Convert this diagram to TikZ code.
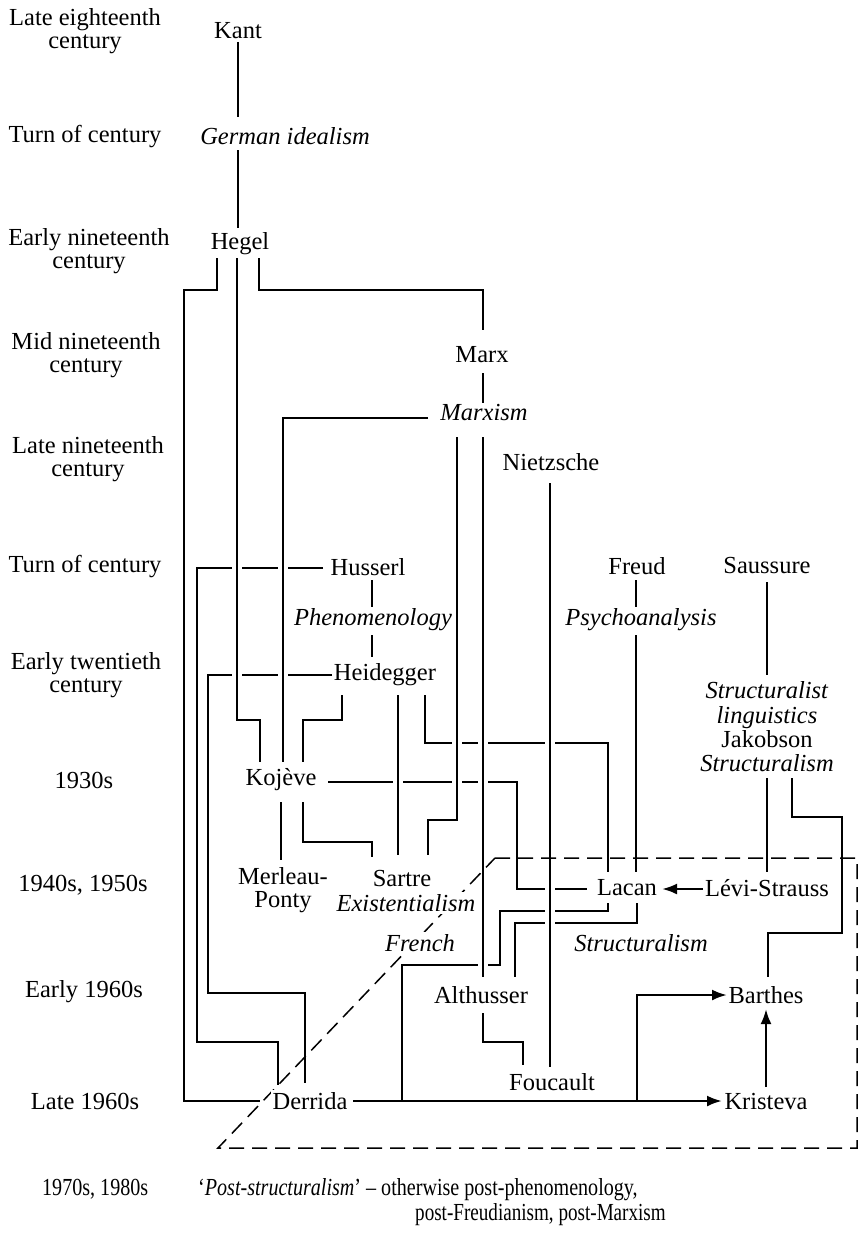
\documentclass[tikz,border=0pt]{standalone}
\usepackage{fontspec}
\setmainfont{Liberation Serif}
\usepackage{graphicx}
\usetikzlibrary{calc,arrows.meta}
\pgfdeclarelayer{bgl}
\pgfdeclarelayer{dashl}
\pgfdeclarelayer{fgl}
\pgfsetlayers{bgl,main,dashl,fgl}
\begin{document}
\begin{tikzpicture}[x=1pt,y=-1pt,
  every node/.style={font=\fontsize{24.5}{22.5}\selectfont, inner sep=0pt},
  lbl/.style={align=center},
  it/.style={font=\fontsize{24.5}{22.5}\selectfont\itshape},
  wf/.style={fill=white, inner sep=2pt},
  ln/.style={line width=2.5pt},
  br/.style={line width=2.5pt, preaction={draw=white, line width=10pt}},
  arr/.style={line width=2.5pt, -{Latex[length=15pt,width=11pt]}},
  dsh/.style={line width=1.5pt, dash pattern=on 15pt off 8pt}
]
\begin{pgfonlayer}{bgl}
\fill[white] (0,0) rectangle (863,1255);
\end{pgfonlayer}
\useasboundingbox (0,0) rectangle (863,1255);

\begin{pgfonlayer}{fgl}
% time column
\node[lbl] (t1) at (85,31) {Late eighteenth\\century};
\node[lbl] (t2) at (85,137) {Turn of century};
\node[lbl] (t3) at (89,251) {Early nineteenth\\century};
\node[lbl] (t4) at (86,355) {Mid nineteenth\\century};
\node[lbl] (t5) at (88,459) {Late nineteenth\\century};
\node[lbl] (t6) at (85,567) {Turn of century};
\node[lbl] (t7) at (86,675) {Early twentieth\\century};
\node[lbl] (t8) at (84,780) {1930s};
\node[lbl] (t9) at (83,885) {1940s, 1950s};
\node[lbl] (t10) at (84,992) {Early 1960s};
\node[lbl] (t11) at (85,1101) {Late 1960s};
\node[anchor=base west] (t12) at (42,1195) {\scalebox{0.82}[1]{1970s, 1980s}};
% thinkers and movements
\node (Kant) at (238,31) {Kant};
\node[it] (GI) at (285,136) {German idealism};
\node (Hegel) at (240,244) {Hegel};
\node (Marx) at (482,355) {Marx};
\node[it] (Marxism) at (484,413) {Marxism};
\node (Nietzsche) at (551,462) {Nietzsche};
\node (Husserl) at (368,567) {Husserl};
\node[it] (Phen) at (373,620) {Phenomenology};
\node (Heidegger) at (385,675) {Heidegger};
\node (Freud) at (637,566) {Freud};
\node[it] (Psycho) at (641,620) {Psychoanalysis};
\node (Saussure) at (767,566) {Saussure};
\node[align=center, font=\fontsize{24.5}{24.3}\selectfont] (SL) at (767,727)
  {\textit{Structuralist}\\\textit{linguistics}\\Jakobson\\\textit{Structuralism}};
\node (Kojeve) at (281,780) {Kojève};
\node[align=center] (MP) at (283,890) {Merleau-\\Ponty};
\node (Sartre) at (402,878) {Sartre};
\node[it, wf] (Exist) at (406,903) {Existentialism};
\node[it, wf] (French) at (420,943) {French};
\node (Lacan) at (627,888) {Lacan};
\node (LS) at (767,888) {Lévi-Strauss};
\node[it] (FStr) at (641,943) {Structuralism};
\node (Althusser) at (481,995) {Althusser};
\node (Barthes) at (766,995) {Barthes};
\node (Foucault) at (552,1082) {Foucault};
\node[wf] (Derrida) at (310,1101) {Derrida};
\node (Kristeva) at (766,1101) {Kristeva};
\node[anchor=base west] (PS1) at (198,1195) {\scalebox{0.82}[1]{`\textit{Post-structuralism}' -- otherwise post-phenomenology,}};
\node[anchor=base west] (PS2) at (415,1220) {\scalebox{0.78}[1]{post-Freudianism, post-Marxism}};
\end{pgfonlayer}

% connectors drawn first (their horizontals are broken by later verticals)
\draw[ln] ($(Kant)+(0,11)$) -- ($(Kant |- GI)+(0,-19)$);
\draw[ln] ($(Kant |- GI)+(0,14)$) -- ($(Hegel)+(-2,-16)$);
\draw[ln] ($(Hegel)+(-23,14)$) -- ++(0,32) -- ++(-33,0) |- ($(Derrida)+(-50,0)$);
\draw[ln] ($(Hegel)+(19,14)$) |- ($(Marx)+(1,-65)$) -- ($(Marx)+(1,-25)$);
\draw[ln] ($(Marx)+(1,18)$) -- ($(Marxism)+(-1,-10)$);
\draw[ln] ($(Husserl)+(-45,1)$) -- ++(-126,0) |- ($(Derrida)+(-32,-59)$) -- ($(Derrida)+(-32,-16)$);
\draw[ln] ($(Husserl)+(4,13)$) -- ($(Phen)+(-1,-13)$);
\draw[ln] ($(Phen)+(-1,15)$) -- ($(Heidegger)+(-13,-18)$);
\draw[ln] ($(Heidegger)+(-53,0)$) -- ++(-124,0) |- ($(Derrida)+(-5,-108)$) -- ($(Derrida)+(-5,-18)$);
\draw[ln] ($(Heidegger)+(-43,20)$) |- ($(Kojeve)+(22,-60)$) -- ($(Kojeve)+(22,-18)$);
\draw[ln] ($(Heidegger)+(40,20)$) |- ($(Lacan)+(-19,-145)$) -- ($(Lacan)+(-19,-16)$);
\draw[ln] ($(Kojeve)+(0,22)$) -- ($(MP)+(-2,-30)$);
\draw[ln] ($(Kojeve)+(22,22)$) |- ($(Sartre)+(-30,-36)$) -- ($(Sartre)+(-30,-21)$);
\draw[ln] ($(Kojeve)+(47,2)$) -| ($(Lacan)+(-110,1)$) -- ($(Lacan)+(-40,1)$);
\draw[ln] ($(Freud)+(-1,14)$) -- ($(Psycho)+(-5,-13)$);
\draw[ln] ($(Psycho)+(-5,15)$) -- ($(Lacan)+(9,-16)$);
\draw[ln] ($(Saussure)+(0,16)$) -- ($(SL)+(0,-52)$);
\draw[ln] ($(SL)+(0,51)$) -- ($(LS)+(0,-16)$);
\draw[ln] ($(SL)+(25,51)$) -- ++(0,39) -- ++(50,0) |- ($(Barthes)+(2,-62)$) -- ($(Barthes)+(2,-18)$);
\draw[arr] ($(LS)+(-64,1)$) -- ($(Lacan)+(35,1)$);
\draw[ln] ($(Lacan)+(-19,15)$) |- ($(Lacan)+(-127,23)$) |- ($(Derrida)+(92,-136)$) |- ($(Derrida)+(43,0)$);
\draw[ln] ($(Lacan)+(10,15)$) |- ($(Althusser)+(34,-72)$) -- ($(Althusser)+(34,-18)$);
\draw[ln] ($(Althusser)+(2,18)$) |- ($(Foucault)+(-29,-40)$) -- ($(Foucault)+(-29,-17)$);
\draw[arr] ($(Derrida)+(43,0)$) -- ($(Kristeva)+(-44,0)$);
\draw[arr] ($(Kristeva)+(-129,0)$) |- ($(Barthes)+(-39,0)$);
\draw[arr] ($(Kristeva)+(0,-14)$) -- ($(Barthes)+(0,14)$);

% continuous verticals, bridging the horizontals they cross
\draw[br] ($(Hegel)+(-3,14)$) |- ($(Kojeve)+(-21,-60)$) -- ($(Kojeve)+(-21,-18)$);
\draw[br] ($(Marxism)+(-56,5)$) -| ($(Kojeve)+(2,-18)$);
\draw[br] ($(Marxism)+(-27,24)$) |- ($(Sartre)+(26,-58)$) -- ($(Sartre)+(26,-23)$);
\draw[br] ($(Marxism)+(-1,24)$) -- ($(Althusser)+(2,-18)$);
\draw[br] ($(Nietzsche)+(-1,21)$) -- ($(Foucault)+(-2,-15)$);
\draw[br] ($(Heidegger)+(13,20)$) -- ($(Sartre)+(-4,-23)$);

% dashed French-structuralism frame
\begin{pgfonlayer}{dashl}
\draw[dsh] (495,858) -- (857,858) -- (857,1148) -- (218,1148) -- cycle;
\end{pgfonlayer}
\end{tikzpicture}
\end{document}
